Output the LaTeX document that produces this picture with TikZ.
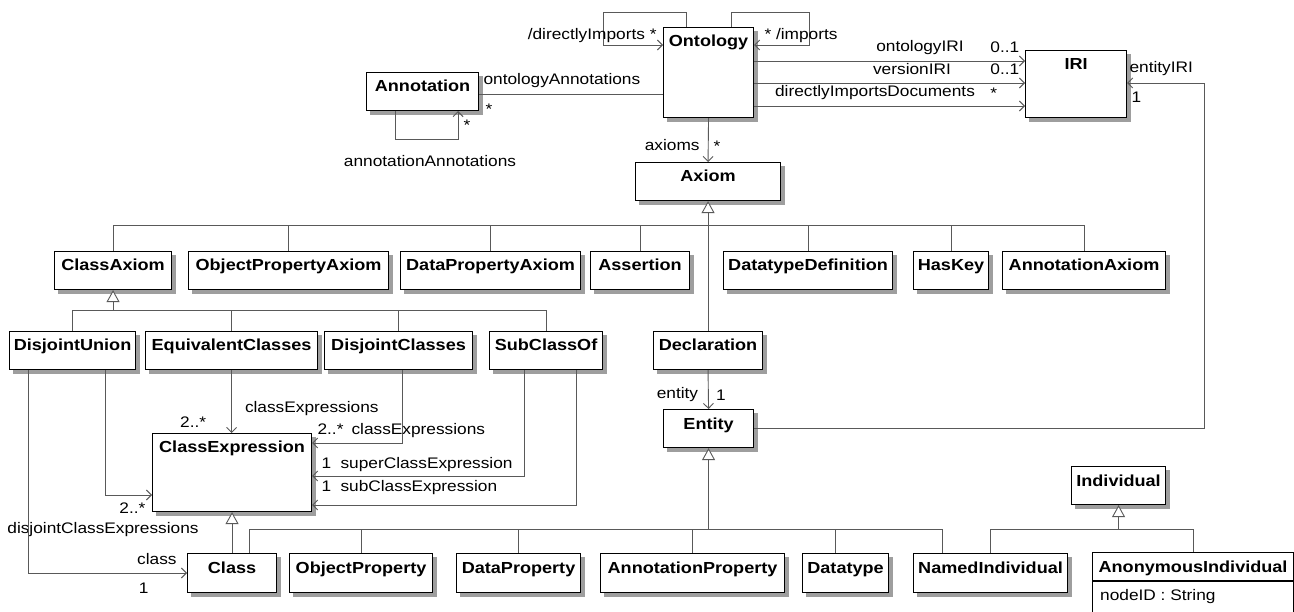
\documentclass[tikz,border=0pt]{standalone}
\usepackage{fontspec}
\setmainfont{Liberation Sans}[FakeStretch=1.13]
\usetikzlibrary{arrows.meta,backgrounds,positioning}
\newcommand\clsfont{\fontsize{16}{19}\selectfont\bfseries}
\newcommand\rolefont{\fontsize{15.3}{18}\selectfont}
\tikzset{
cls/.style={draw=black, line width=1.1pt, fill=white, anchor=north west, inner sep=0pt,
  minimum height=38pt, label={[clslabel]north:#1}}, % class box, its name at the top
clslabel/.style={font=\clsfont, anchor=base, yshift=-20pt, inner sep=0pt},
boxshadow/.style={fill=black!38},
role/.style={font=\rolefont, inner sep=0pt}, % role names and multiplicities
link/.style={draw=black!65, line width=0.9pt},
assoc/.style={link, -{Straight Barb[length=5pt, width=10pt]}}, % navigable end
gen/.style={link, -{Triangle[length=12pt, width=13pt, fill=white]}}, % generalization
}
\begin{document}
\begin{tikzpicture}[x=1pt, y=-1pt]
\useasboundingbox (0,0) rectangle (1294,612);

\node[cls=Annotation, minimum width=112pt] (ann) at (366,72) {};
\node[cls=Ontology, minimum width=90pt, minimum height=90pt] (ont) at (663,27) {};
\node[cls=IRI, minimum width=101pt, minimum height=67pt] (iri) at (1025,50) {};
\node[cls=Axiom, minimum width=145pt] (axiom) at (635,162) {};
\node[cls=ClassAxiom, minimum width=117pt] (cax) at (54,251) {};
\node[cls=ObjectPropertyAxiom, minimum width=200pt] (opa) at (188,251) {};
\node[cls=DataPropertyAxiom, minimum width=180pt] (dpa) at (400,251) {};
\node[cls=Assertion, minimum width=99pt] (asr) at (590,251) {};
\node[cls=DatatypeDefinition, minimum width=169pt] (dtd) at (723,251) {};
\node[cls=HasKey, minimum width=75pt] (hk) at (913,251) {};
\node[cls=AnnotationAxiom, minimum width=163pt] (aax) at (1002,251) {};
\node[cls=DisjointUnion, minimum width=126pt] (du) at (9,331) {};
\node[cls=EquivalentClasses, minimum width=172pt] (eqc) at (145,331) {};
\node[cls=DisjointClasses, minimum width=148pt] (dcl) at (324,331) {};
\node[cls=SubClassOf, minimum width=113pt] (sco) at (489,331) {};
\node[cls=Declaration, minimum width=109pt] (decl) at (653,331) {};
\node[cls=ClassExpression, minimum width=159pt, minimum height=78pt] (ce) at (152,433) {};
\node[cls=Entity, minimum width=90pt] (ent) at (663,409) {};
\node[cls=Individual, minimum width=94pt] (ind) at (1071,466) {};
\node[cls=Class, minimum width=89pt, minimum height=39pt] (class) at (187,553) {};
\node[cls=ObjectProperty, minimum width=143pt, minimum height=39pt] (op) at (289,553) {};
\node[cls=DataProperty, minimum width=124pt, minimum height=39pt] (dp) at (456,553) {};
\node[cls=AnnotationProperty, minimum width=184pt, minimum height=39pt] (ap) at (600,553) {};
\node[cls=Datatype, minimum width=86pt, minimum height=39pt] (dt) at (802,553) {};
\node[cls=NamedIndividual, minimum width=154pt, minimum height=39pt] (ni) at (913,553) {};
\node[cls=AnonymousIndividual, minimum width=201pt, minimum height=80pt] (anon) at (1092,552) {};
\draw[black, line width=1.1pt] ([yshift=-29pt]anon.north west) -- ([yshift=-29pt]anon.north east);
\node[role, anchor=base west] (anonid) at ([xshift=8pt, yshift=-48pt]anon.north west) {nodeID : String};

% drop shadows behind the boxes
\begin{pgfonlayer}{background}
\foreach \n in {ann,ont,iri,axiom,cax,opa,dpa,asr,dtd,hk,aax,du,eqc,dcl,sco,decl,ce,ent,ind,class,op,dp,ap,dt,ni,anon}
  \fill[boxshadow] ([xshift=4pt, yshift=-4pt]\n.south west) rectangle ([xshift=4pt, yshift=-4pt]\n.north east);
\end{pgfonlayer}

% Axiom hierarchy
\coordinate (axbus) at (0,225);
\draw[gen] (decl.north) -- (axiom.south);
\draw[link] (cax.north |- axbus) -- (aax.north |- axbus);
\foreach \n in {cax,opa,dpa,asr,dtd,hk,aax}
  \draw[link] (\n.north) -- (\n.north |- axbus);

% ClassAxiom hierarchy
\coordinate (cabus) at (0,310);
\draw[gen] (cax.south |- cabus) -- (cax.south);
\draw[link] (du.north |- cabus) -- (sco.north |- cabus);
\foreach \n in {du,eqc,dcl,sco}
  \draw[link] (\n.north) -- (\n.north |- cabus);

% Entity and Individual hierarchies
\path ([xshift=17pt]class.north) ++(0,-24) coordinate (clstop);
\path ([xshift=-48pt]ni.north) ++(0,-24) coordinate (nitop);
\draw[link] ([xshift=17pt]class.north) -- (clstop) -- (nitop) -- ([xshift=-48pt]ni.north);
\draw[gen] (ent.south |- clstop) -- (ent.south);
\foreach \n in {op,dp,ap}
  \draw[link] (\n.north) -- (\n.north |- clstop);
\draw[link] ([xshift=-10pt]dt.north) -- ++(0,-24);
\draw[gen] (ind.south |- clstop) -- (ind.south);
\draw[link] (ni.north) -- (ni.north |- clstop) -- (anon.north |- clstop) -- (anon.north);
\draw[gen] (class.north) -- (ce.south);

% associations of Ontology
\draw[assoc] ([xshift=23pt]ont.north west) -- ++(0,-15) -- ++(-83,0) |- ([yshift=-18pt]ont.north west)
  node[role, anchor=base east, xshift=-6pt, yshift=5pt] {/directlyImports *};
\draw[assoc] ([xshift=-23pt]ont.north east) -- ++(0,-15) -- ++(78,0) |- ([yshift=-18pt]ont.north east)
  node[role, anchor=base west, xshift=10pt, yshift=5pt] {* /imports};
\path ([yshift=-3pt]ann.east) coordinate (annr);
\draw[link] (annr)
  node[role, anchor=base west, xshift=4pt, yshift=10pt] {ontologyAnnotations}
  node[role, anchor=base west, xshift=6pt, yshift=-20pt] {*}
  -- (annr -| ont.west);
\draw[assoc] ([xshift=29pt]ann.south west) -- ++(0,28)
  node[role, anchor=base, xshift=35pt, yshift=-27pt] {annotationAnnotations}
  -| ([xshift=-21pt]ann.south east) node[role, anchor=base west, xshift=5pt, yshift=-19pt] {*};
\draw[assoc] (ont.south) -- (axiom.north)
  node[role, anchor=base east, xshift=-8pt, yshift=11pt] {axioms}
  node[role, anchor=base west, xshift=5pt, yshift=10pt] {*};
\draw[assoc] ([yshift=-34pt]ont.north east) coordinate (oiri) -- (oiri -| iri.west)
  node[role, anchor=base, xshift=-105pt, yshift=9pt] {ontologyIRI}
  node[role, anchor=base west, xshift=-35pt, yshift=8pt] {0..1};
\draw[assoc] ([yshift=-56pt]ont.north east) coordinate (viri) -- (viri -| iri.west)
  node[role, anchor=base, xshift=-113pt, yshift=8pt] {versionIRI}
  node[role, anchor=base west, xshift=-35pt, yshift=8pt] {0..1};
\draw[assoc] ([yshift=-79pt]ont.north east) coordinate (diri) -- (diri -| iri.west)
  node[role, anchor=base, xshift=-150pt, yshift=9pt] {directlyImportsDocuments}
  node[role, anchor=base west, xshift=-35pt, yshift=7pt] {*};

% Declaration and Entity
\draw[assoc] (decl.south) -- (ent.north)
  node[role, anchor=base east, xshift=-10pt, yshift=10pt] {entity}
  node[role, anchor=base west, xshift=7pt, yshift=9pt] {1};
\draw[assoc] (ent.east) -| ([xshift=77pt, yshift=-33pt]iri.north east) -- ([yshift=-33pt]iri.north east)
  node[role, anchor=base west, xshift=2pt, yshift=10pt] {entityIRI}
  node[role, anchor=base west, xshift=4pt, yshift=-20pt] {1};

% class axioms and class expressions
\draw[assoc] (eqc.south) -- (eqc.south |- ce.north)
  node[role, anchor=base west, xshift=13pt, yshift=20pt] {classExpressions}
  node[role, anchor=base east, xshift=-25pt, yshift=5pt] {2..*};
\draw[assoc] ([xshift=4pt]dcl.south) |- ([yshift=-10pt]ce.north east)
  node[role, anchor=base west, xshift=5pt, yshift=8pt] {2..*}
  node[role, anchor=base west, xshift=39pt, yshift=8pt] {classExpressions};
\draw[assoc] ([xshift=-22pt]sco.south) |- ([yshift=-43pt]ce.north east)
  node[role, anchor=base west, xshift=9pt, yshift=8pt] {1}
  node[role, anchor=base west, xshift=28pt, yshift=8pt] {superClassExpression};
\draw[assoc] ([xshift=30pt]sco.south) |- ([yshift=-72pt]ce.north east)
  node[role, anchor=base west, xshift=9pt, yshift=14pt] {1}
  node[role, anchor=base west, xshift=28pt, yshift=14pt] {subClassExpression};
\draw[assoc] ([xshift=33pt]du.south) |- ([yshift=-62pt]ce.north west)
  node[role, anchor=base west, xshift=-33pt, yshift=-18pt] {2..*}
  node[role, anchor=base, xshift=-49pt, yshift=-38pt] {disjointClassExpressions};
\draw[assoc] ([xshift=-44pt]du.south) |- ([yshift=-20pt]class.north west)
  node[role, anchor=base east, xshift=-10pt, yshift=9pt] {class}
  node[role, anchor=base east, xshift=-38pt, yshift=-20pt] {1};
\end{tikzpicture}
\end{document}
